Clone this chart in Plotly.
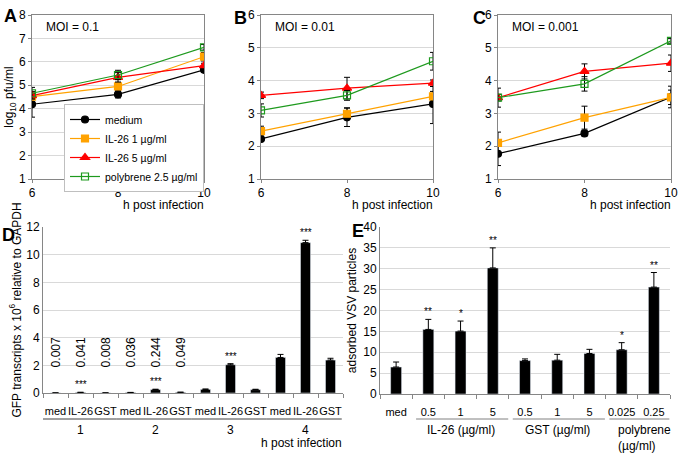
import plotly.graph_objects as go

# time course panels A-C (log10 pfu/ml)
hours = [6, 8, 10]
series_names = ["medium", "IL-26 1 µg/ml", "IL-26 5 µg/ml", "polybrene 2.5 µg/ml"]

medium_a = [4.19, 4.61, 5.66]
medium_a_err = [0.55, 0.15, 0.1]
il26_1_a = [4.52, 4.95, 6.22]
il26_1_a_err = [0.12, 0.15, 0.18]
il26_5_a = [4.56, 5.34, 5.84]
il26_5_a_err = [0.1, 0.2, 0.1]
poly_a = [4.66, 5.44, 6.62]
poly_a_err = [0.25, 0.2, 0.12]

medium_b = [2.22, 2.88, 3.29]
medium_b_err = [0.07, 0.28, 0.6]
il26_1_b = [2.46, 2.99, 3.52]
il26_1_b_err = [0.15, 0.18, 0.15]
il26_5_b = [3.55, 3.77, 3.92]
il26_5_b_err = [0.1, 0.33, 0.1]
poly_b = [3.09, 3.55, 4.59]
poly_b_err = [0.2, 0.15, 0.27]

medium_c = [1.77, 2.39, 3.5]
medium_c_err = [0.36, 0.08, 0.33]
il26_1_c = [2.1, 2.87, 3.49]
il26_1_c_err = [0.33, 0.35, 0.22]
il26_5_c = [3.48, 4.28, 4.53]
il26_5_c_err = [0.29, 0.23, 0.25]
poly_c = [3.48, 3.9, 5.21]
poly_c_err = [0.1, 0.22, 0.07]

# panel D: GFP transcripts
gfp_labels = ["med", "IL-26", "GST"] * 4
gfp_groups = ["1", "2", "3", "4"]
gfp_vals = [0.007, 0.041, 0.008, 0.036, 0.244, 0.049, 0.26, 2.04, 0.24, 2.57, 10.87, 2.38]
gfp_err = [0.002, 0.01, 0.002, 0.008, 0.03, 0.01, 0.03, 0.08, 0.03, 0.22, 0.17, 0.13]
gfp_value_text = ["0.007", "0.041", "0.008", "0.036", "0.244", "0.049"]
gfp_stars = ["", "***", "", "", "***", "", "", "***", "", "", "***", ""]

# panel E: adsorbed VSV particles
vsv_labels = ["med", "0.5", "1", "5", "0.5", "1", "5", "0.025", "0.25"]
vsv_vals = [6.46, 15.47, 15.07, 30.2, 8.0, 8.1, 9.7, 10.6, 25.6]
vsv_err = [1.2, 2.4, 2.4, 4.8, 0.4, 1.4, 1.0, 1.7, 3.5]
vsv_stars = ["", "**", "*", "**", "", "", "", "*", "**"]

FONT = "Liberation Sans, Arial, sans-serif"
GRID = "#D9D9D9"
AXIS = "#868686"

styles = [
    dict(color="black", symbol="circle", size=7),
    dict(color="#FFA200", symbol="square", size=7),
    dict(color="#FF0000", symbol="triangle-up", size=8),
    dict(color="#1E9A1E", symbol="square-open", size=7),
]

fig = go.Figure()

panels = [
    ("x", "y", [medium_a, il26_1_a, il26_5_a, poly_a],
     [medium_a_err, il26_1_a_err, il26_5_a_err, poly_a_err], True),
    ("x2", "y2", [medium_b, il26_1_b, il26_5_b, poly_b],
     [medium_b_err, il26_1_b_err, il26_5_b_err, poly_b_err], False),
    ("x3", "y3", [medium_c, il26_1_c, il26_5_c, poly_c],
     [medium_c_err, il26_1_c_err, il26_5_c_err, poly_c_err], False),
]
for xa, ya, vals, errs, show in panels:
    for name, v, e, st in zip(series_names, vals, errs, styles):
        fig.add_trace(go.Scatter(
            x=hours, y=v, xaxis=xa, yaxis=ya, name=name, showlegend=show,
            mode="lines+markers",
            line=dict(color=st["color"], width=1.2),
            marker=dict(color=st["color"], symbol=st["symbol"], size=st["size"],
                        line=dict(color=st["color"], width=1.2)),
            error_y=dict(type="data", array=e, color="black", thickness=1, width=3),
        ))

fig.add_trace(go.Bar(
    x=list(range(len(gfp_vals))), y=gfp_vals, xaxis="x4", yaxis="y4",
    marker_color="black", width=0.4, showlegend=False,
    error_y=dict(type="data", array=gfp_err, arrayminus=[0] * len(gfp_err),
                 symmetric=False, color="black", thickness=1, width=3),
))
fig.add_trace(go.Bar(
    x=list(range(len(vsv_vals))), y=vsv_vals, xaxis="x5", yaxis="y5",
    marker_color="black", width=0.34, showlegend=False,
    error_y=dict(type="data", array=vsv_err, arrayminus=[0] * len(vsv_err),
                 symmetric=False, color="black", thickness=1, width=3),
))

W, H = 683, 456


def px_x(p):
    return p / W


def px_y(p):
    return 1 - p / H


line_ax = dict(
    showline=True, linecolor=AXIS, linewidth=1, mirror=True,
    ticks="outside", ticklen=3, tickcolor=AXIS, automargin=False,
    tickfont=dict(size=12, color="black"), zeroline=False,
)
xa_common = dict(line_ax, range=[6, 10], tickvals=hours, showgrid=False)
ya_common = dict(line_ax, dtick=1, showgrid=True, gridcolor=GRID)

bar_x = dict(ticks="", showline=True, linecolor=AXIS, zeroline=False, showgrid=False,
             tickangle=0, ticklabelstandoff=8, tickfont=dict(size=11, color="black"),
             automargin=False,
             minor=dict(tickmode="linear", tick0=-0.5, dtick=1, ticks="outside",
                        ticklen=4, tickcolor=AXIS))
bar_y = dict(showgrid=True, gridcolor=GRID, showline=True, linecolor=AXIS,
             zeroline=False, ticks="", automargin=False,
             tickfont=dict(size=12, color="black"))

annotations = []
shapes = []

layout = dict(
    width=W, height=H, margin=dict(l=0, r=0, t=0, b=0, autoexpand=False),
    plot_bgcolor="white", paper_bgcolor="white",
    font=dict(family=FONT, size=12, color="black"),
    xaxis=dict(xa_common, domain=[px_x(32), px_x(204)], anchor="y"),
    yaxis=dict(ya_common, domain=[px_y(179), px_y(15)], range=[1, 8], anchor="x",
               title=dict(text="log<sub>10</sub> pfu/ml", font=dict(size=12), standoff=2)),
    xaxis2=dict(xa_common, domain=[px_x(261), px_x(433)], anchor="y2"),
    yaxis2=dict(ya_common, domain=[px_y(179), px_y(15)], range=[1, 6], anchor="x2"),
    xaxis3=dict(xa_common, domain=[px_x(498), px_x(671)], anchor="y3"),
    yaxis3=dict(ya_common, domain=[px_y(179), px_y(15)], range=[1, 6], anchor="x3"),
    xaxis4=dict(bar_x, domain=[px_x(43), px_x(343)], anchor="y4", range=[-0.5, 11.5],
                tickmode="array", tickvals=list(range(12)), ticktext=gfp_labels),
    yaxis4=dict(bar_y, domain=[px_y(393), px_y(227)], anchor="x4", range=[0, 12], dtick=2,
                title=dict(text="GFP transcripts x 10<sup>6</sup> relative to GAPDH",
                           font=dict(size=12), standoff=2)),
    xaxis5=dict(bar_x, domain=[px_x(380), px_x(670)], anchor="y5", range=[-0.5, 8.5],
                tickmode="array", tickvals=list(range(9)), ticktext=vsv_labels),
    yaxis5=dict(bar_y, domain=[px_y(394), px_y(227)], anchor="x5", range=[0, 40], dtick=5,
                title=dict(text="adsorbed VSV particles", font=dict(size=12), standoff=4)),
    legend=dict(x=px_x(64), y=px_y(104), xanchor="left", yanchor="top",
                bordercolor="#BFBFBF", borderwidth=1, bgcolor="white",
                font=dict(size=10.5, color="black"), tracegroupgap=0, itemwidth=30),
)

# panel letters
for letter, x, y in [("A", 2, 4), ("B", 232, 6), ("C", 471, 6), ("D", 0, 223), ("E", 350, 219)]:
    annotations.append(dict(text=f"<b>{letter}</b>", x=px_x(x), y=px_y(y), xref="paper", yref="paper",
                            xanchor="left", yanchor="top", showarrow=False,
                            font=dict(size=18, family=FONT, color="black")))

# MOI labels and x titles for A-C
for moi, xa in [("MOI = 0.1", "x"), ("MOI = 0.01", "x2"), ("MOI = 0.001", "x3")]:
    ya = xa.replace("x", "y")
    annotations.append(dict(text=moi, x=0.07, y=0.925, xref=f"{xa} domain", yref=f"{ya} domain",
                            xanchor="left", yanchor="middle", showarrow=False,
                            font=dict(size=12, color="black")))
    annotations.append(dict(text="h post infection", x=1.01, y=px_y(205), xref=f"{xa} domain",
                            yref="paper", xanchor="right", yanchor="middle", showarrow=False,
                            font=dict(size=12, color="black")))

# panel D annotations
for i, t in enumerate(gfp_value_text):
    annotations.append(dict(text=t, x=i, y=2.9, xref="x4", yref="y4", textangle=-90,
                            yanchor="middle", showarrow=False, font=dict(size=12, color="black")))
for i, s in enumerate(gfp_stars):
    if s:
        annotations.append(dict(text=s, x=i, y=gfp_vals[i] + gfp_err[i], xref="x4", yref="y4",
                                yanchor="bottom", showarrow=False,
                                font=dict(size=10, color="black")))
for g, name in enumerate(gfp_groups):
    shapes.append(dict(type="line", xref="x4", yref="paper", x0=g * 3 - 0.55, x1=g * 3 + 2.45,
                       y0=px_y(419), y1=px_y(419), line=dict(color="#404040", width=1)))
    annotations.append(dict(text=name, x=g * 3 + 1, y=px_y(430), xref="x4", yref="paper",
                            yanchor="middle", showarrow=False, font=dict(size=12, color="black")))
annotations.append(dict(text="h post infection", x=px_x(344), y=px_y(443), xref="paper", yref="paper",
                        xanchor="right", yanchor="middle", showarrow=False,
                        font=dict(size=12, color="black")))

# panel E annotations
for i, s in enumerate(vsv_stars):
    if s:
        annotations.append(dict(text=s, x=i, y=vsv_vals[i] + vsv_err[i], xref="x5", yref="y5",
                                yanchor="bottom", showarrow=False,
                                font=dict(size=10, color="black")))
for start, end, label, anchor, lx in [(1, 3, "IL-26 (µg/ml)", "center", 2),
                                      (4, 6, "GST (µg/ml)", "center", 5),
                                      (7, 8, "polybrene<br>(µg/ml)", "left", 6.82)]:
    shapes.append(dict(type="line", xref="x5", yref="paper", x0=start - 0.38, x1=end + 0.48,
                       y0=px_y(419), y1=px_y(419), line=dict(color="#808080", width=1)))
    annotations.append(dict(text=label, x=lx, y=px_y(421), xref="x5", yref="paper",
                            xanchor=anchor, yanchor="top", align="left", showarrow=False,
                            font=dict(size=12, color="black")))

layout["annotations"] = annotations
layout["shapes"] = shapes
fig.update_layout(**layout)

# the page's default body margin would push the fixed-size figure off the window
fig.write_html("out.html", config={"displayModeBar": False},
               post_script="document.body.style.margin='0';document.body.style.overflow='hidden';")
